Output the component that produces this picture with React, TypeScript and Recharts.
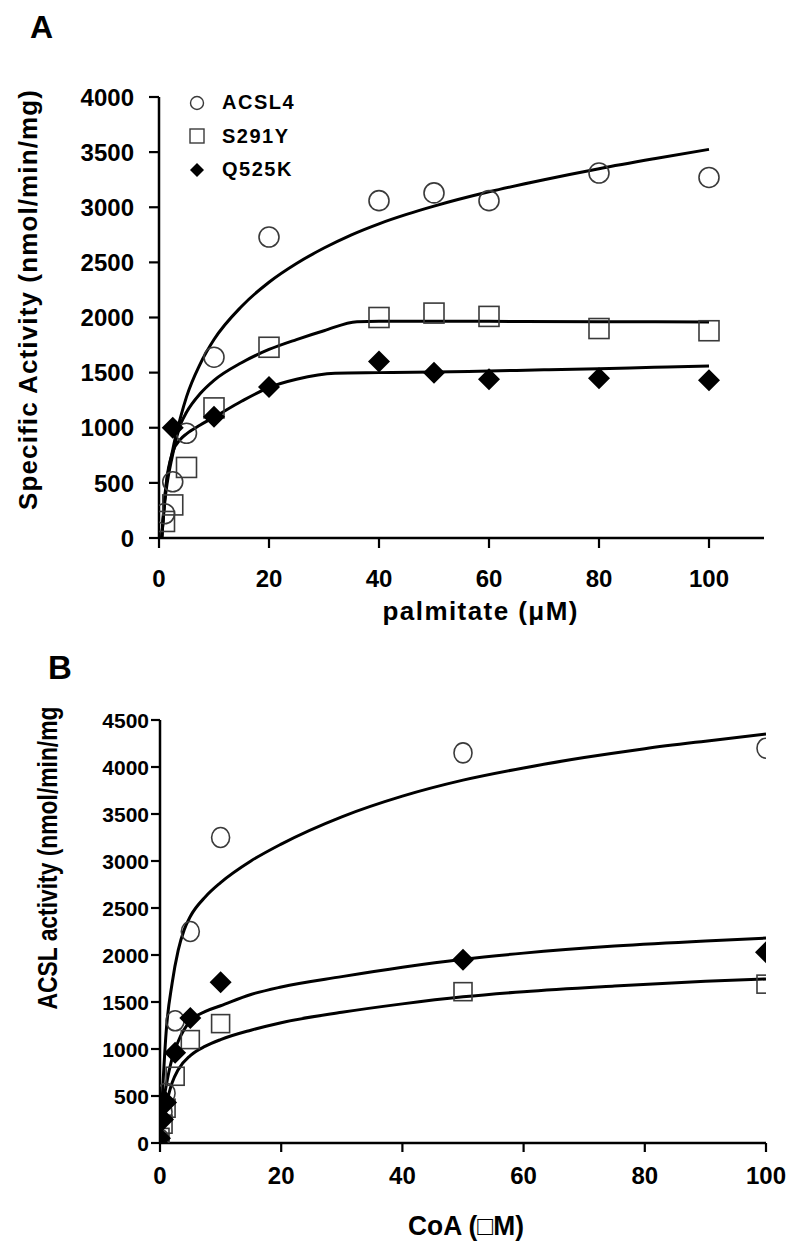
import React from 'react';
import { ComposedChart, XAxis, YAxis, Line, Scatter, Legend, Label } from 'recharts';

const FONT = "'Liberation Sans', Arial, Helvetica, sans-serif";
const NARROW = "'Liberation Sans Narrow', 'Arial Narrow', 'Liberation Sans', Arial, sans-serif";

// ---------- Panel A : palmitate ----------
const palmitateTicks = [0, 20, 40, 60, 80, 100];
const activityTicksA = [0, 500, 1000, 1500, 2000, 2500, 3000, 3500, 4000];

const acsl4Palmitate = [
  { x: 1, y: 220 }, { x: 2.5, y: 510 }, { x: 5, y: 950 }, { x: 10, y: 1640 }, { x: 20, y: 2730 },
  { x: 40, y: 3060 }, { x: 50, y: 3130 }, { x: 60, y: 3060 }, { x: 80, y: 3310 }, { x: 100, y: 3270 },
];
const s291yPalmitate = [
  { x: 1, y: 150 }, { x: 2.5, y: 300 }, { x: 5, y: 640 }, { x: 10, y: 1180 }, { x: 20, y: 1730 },
  { x: 40, y: 2000 }, { x: 50, y: 2040 }, { x: 60, y: 2010 }, { x: 80, y: 1900 }, { x: 100, y: 1880 },
];
const q525kPalmitate = [
  { x: 2.5, y: 1000 }, { x: 10, y: 1100 }, { x: 20, y: 1370 }, { x: 40, y: 1600 },
  { x: 50, y: 1500 }, { x: 60, y: 1440 }, { x: 80, y: 1450 }, { x: 100, y: 1430 },
];
const acsl4PalmitateFit = [
  { x: 0.5, y: 0 }, { x: 1, y: 330 }, { x: 2.5, y: 800 }, { x: 4, y: 1110 }, { x: 5, y: 1280 },
  { x: 7.5, y: 1580 }, { x: 10, y: 1800 }, { x: 15, y: 2100 }, { x: 20, y: 2320 }, { x: 25, y: 2490 },
  { x: 30, y: 2630 }, { x: 35, y: 2750 }, { x: 40, y: 2850 }, { x: 45, y: 2935 }, { x: 50, y: 3010 },
  { x: 60, y: 3140 }, { x: 70, y: 3250 }, { x: 80, y: 3350 }, { x: 90, y: 3440 }, { x: 100, y: 3525 },
];
const s291yPalmitateFit = [
  { x: 0.5, y: 0 }, { x: 1, y: 300 }, { x: 2.5, y: 760 }, { x: 4, y: 1040 }, { x: 5, y: 1140 },
  { x: 7.5, y: 1310 }, { x: 10, y: 1430 }, { x: 15, y: 1590 }, { x: 20, y: 1710 }, { x: 25, y: 1800 },
  { x: 30, y: 1880 }, { x: 36, y: 1962 }, { x: 40, y: 1965 }, { x: 60, y: 1965 }, { x: 80, y: 1962 },
  { x: 100, y: 1960 },
];
const q525kPalmitateFit = [
  { x: 0.5, y: 0 }, { x: 1, y: 340 }, { x: 2.5, y: 780 }, { x: 4, y: 900 }, { x: 5, y: 945 },
  { x: 7.5, y: 1025 }, { x: 10, y: 1095 }, { x: 15, y: 1240 }, { x: 20, y: 1365 }, { x: 25, y: 1440 },
  { x: 32, y: 1495 }, { x: 40, y: 1500 }, { x: 50, y: 1505 }, { x: 60, y: 1515 }, { x: 70, y: 1525 },
  { x: 80, y: 1535 }, { x: 90, y: 1548 }, { x: 100, y: 1560 },
];

// ---------- Panel B : CoA ----------
const coaTicks = [0, 20, 40, 60, 80, 100];
const activityTicksB = [0, 500, 1000, 1500, 2000, 2500, 3000, 3500, 4000, 4500];

const acsl4CoA = [
  { x: 0, y: 40 }, { x: 0.5, y: 330 }, { x: 1, y: 530 }, { x: 2.5, y: 1300 }, { x: 5, y: 2250 },
  { x: 10, y: 3250 }, { x: 50, y: 4150 }, { x: 100, y: 4200 },
];
const s291yCoA = [
  { x: 0, y: 60 }, { x: 0.5, y: 200 }, { x: 1, y: 370 }, { x: 2.5, y: 710 }, { x: 5, y: 1100 },
  { x: 10, y: 1270 }, { x: 50, y: 1610 }, { x: 100, y: 1690 },
];
const q525kCoA = [
  { x: 0, y: 50 }, { x: 0.5, y: 250 }, { x: 1, y: 430 }, { x: 2.5, y: 960 }, { x: 5, y: 1330 },
  { x: 10, y: 1710 }, { x: 50, y: 1950 }, { x: 100, y: 2030 },
];
const acsl4CoAFit = [
  { x: 0, y: 0 }, { x: 0.5, y: 640 }, { x: 1, y: 1170 }, { x: 2, y: 1700 }, { x: 3, y: 2050 },
  { x: 4, y: 2270 }, { x: 5, y: 2410 }, { x: 7.5, y: 2620 }, { x: 10, y: 2770 }, { x: 15, y: 3000 },
  { x: 20, y: 3180 }, { x: 30, y: 3470 }, { x: 40, y: 3690 }, { x: 50, y: 3860 }, { x: 60, y: 3990 },
  { x: 70, y: 4100 }, { x: 80, y: 4195 }, { x: 90, y: 4275 }, { x: 100, y: 4350 },
];
const s291yCoAFit = [
  { x: 0, y: 0 }, { x: 0.5, y: 250 }, { x: 1, y: 400 }, { x: 2, y: 640 }, { x: 3, y: 780 },
  { x: 5, y: 930 }, { x: 7.5, y: 1030 }, { x: 10, y: 1100 }, { x: 15, y: 1200 }, { x: 20, y: 1280 },
  { x: 30, y: 1390 }, { x: 40, y: 1480 }, { x: 50, y: 1555 }, { x: 60, y: 1610 }, { x: 75, y: 1670 },
  { x: 90, y: 1720 }, { x: 100, y: 1745 },
];
const q525kCoAFit = [
  { x: 0, y: 0 }, { x: 0.5, y: 400 }, { x: 1, y: 600 }, { x: 2, y: 900 }, { x: 3, y: 1080 },
  { x: 5, y: 1300 }, { x: 7.5, y: 1400 }, { x: 10, y: 1460 }, { x: 15, y: 1580 }, { x: 20, y: 1660 },
  { x: 30, y: 1770 }, { x: 40, y: 1870 }, { x: 50, y: 1955 }, { x: 60, y: 2020 }, { x: 75, y: 2095 },
  { x: 90, y: 2150 }, { x: 100, y: 2180 },
];

const legendNames = ['ACSL4', 'S291Y', 'Q525K'];

// ---------- marker shapes ----------
const circleShape = (rx: number, ry: number) => (p: any) =>
  <ellipse cx={p.cx} cy={p.cy} rx={rx} ry={ry} fill="none" stroke="#3a3a3a" strokeWidth={1.6} />;
const squareShape = (s: number) => (p: any) =>
  <rect x={p.cx - s / 2} y={p.cy - s / 2} width={s} height={s} fill="none" stroke="#3a3a3a" strokeWidth={1.6} />;
const diamondShape = (h: number) => (p: any) =>
  <polygon points={`${p.cx},${p.cy - h} ${p.cx + h},${p.cy} ${p.cx},${p.cy + h} ${p.cx - h},${p.cy}`} fill="#000" />;

const legendIcon = (i: number) => {
  if (i === 0) return <circle cx={9} cy={9} r={6.5} fill="none" stroke="#3a3a3a" strokeWidth={1.4} />;
  if (i === 1) return <rect x={2} y={2} width={14} height={14} fill="none" stroke="#3a3a3a" strokeWidth={1.4} />;
  return <polygon points="9,2 16,9 9,16 2,9" fill="#000" />;
};

const LegendBox = () => (
  <div style={{ fontFamily: FONT, fontWeight: 'bold', fontSize: 20, color: '#000' }}>
    {legendNames.map((n, i) => (
      <div key={n} style={{ display: 'flex', alignItems: 'center', height: 33.5 }}>
        <svg width={18} height={18}>{legendIcon(i)}</svg>
        <span style={{ marginLeft: 16, letterSpacing: 1.5 }}>{n}</span>
      </div>
    ))}
  </div>
);

const makeXTick = (family: string, size: number) => (props: any) => (
  <text x={props.x} y={props.y} dy="0.72em" textAnchor="middle" fontFamily={family} fontSize={size} fontWeight="bold" fill="#000">
    {props.payload.value}
  </text>
);
const makeYTick = (family: string, size: number) => (props: any) => (
  <text x={props.x} y={props.y} dy="0.36em" textAnchor="end" fontFamily={family} fontSize={size} fontWeight="bold" fill="#000">
    {props.payload.value}
  </text>
);

const axisLine = { stroke: '#000', strokeWidth: 2.5 };
const tickLine = { stroke: '#000', strokeWidth: 2.2 };

export default function App() {
  return (
    <div style={{ position: 'absolute', left: 0, top: 0, width: 800, height: 1246, background: '#fff' }}>
      <div style={{ position: 'absolute', left: 30, top: 11, fontFamily: FONT, fontWeight: 'bold', fontSize: 32, lineHeight: '32px' }}>A</div>
      <div style={{ position: 'absolute', left: 48, top: 651, fontFamily: FONT, fontWeight: 'bold', fontSize: 33, lineHeight: '33px' }}>B</div>

      <div style={{ position: 'absolute', left: 0, top: 0 }}>
        <ComposedChart width={800} height={640} margin={{ top: 97, right: 36, bottom: 0, left: 0 }}>
          <XAxis type="number" dataKey="x" domain={[0, 110]} ticks={palmitateTicks} allowDataOverflow
            height={102} tickSize={10} tickMargin={22} axisLine={axisLine} tickLine={tickLine}
            tick={makeXTick(FONT, 24)}>
            <Label content={() => (
              <text x={480} y={620} textAnchor="middle" fontFamily={FONT} fontSize={26} fontWeight="bold"
                textLength={195} lengthAdjust="spacing" fill="#000">palmitate (μM)</text>
            )} />
          </XAxis>
          <YAxis type="number" dataKey="y" domain={[0, 4000]} ticks={activityTicksA} allowDataOverflow
            width={159} tickSize={10} tickMargin={15} axisLine={axisLine} tickLine={tickLine}
            tick={makeYTick(FONT, 24)}>
            <Label content={() => (
              <text transform="translate(37,300) rotate(-90)" x={0} y={0} textAnchor="middle" fontFamily={FONT}
                fontSize={26} fontWeight="bold" textLength={420} lengthAdjust="spacing" fill="#000">
                Specific Activity (nmol/min/mg)
              </text>
            )} />
          </YAxis>
          <Line data={acsl4PalmitateFit} dataKey="y" type="monotone" stroke="#000" strokeWidth={3} dot={false} activeDot={false} legendType="none" isAnimationActive={false} />
          <Line data={s291yPalmitateFit} dataKey="y" type="monotone" stroke="#000" strokeWidth={3} dot={false} activeDot={false} legendType="none" isAnimationActive={false} />
          <Line data={q525kPalmitateFit} dataKey="y" type="monotone" stroke="#000" strokeWidth={3} dot={false} activeDot={false} legendType="none" isAnimationActive={false} />
          <Scatter name="ACSL4" data={acsl4Palmitate} shape={circleShape(10, 10)} isAnimationActive={false} />
          <Scatter name="S291Y" data={s291yPalmitate} shape={squareShape(20)} isAnimationActive={false} />
          <Scatter name="Q525K" data={q525kPalmitate} shape={diamondShape(11)} isAnimationActive={false} />
          <Legend layout="vertical" align="center" verticalAlign="middle" content={() => <LegendBox />}
            wrapperStyle={{ position: 'absolute', left: 188, top: 86, width: 160, height: 104 }} />
        </ComposedChart>
      </div>

      <div style={{ position: 'absolute', left: 0, top: 640 }}>
        <ComposedChart width={800} height={606} margin={{ top: 80, right: 34, bottom: 0, left: 0 }}>
          <XAxis type="number" dataKey="x" domain={[0, 100]} ticks={coaTicks} allowDataOverflow
            height={103} tickSize={9} tickMargin={15} axisLine={axisLine} tickLine={tickLine}
            tick={makeXTick(NARROW, 24)}>
            <Label content={() => (
              <text x={466} y={595} textAnchor="middle" fontFamily={NARROW} fontSize={27} fontWeight="bold"
                textLength={116} lengthAdjust="spacingAndGlyphs" fill="#000">CoA (□M)</text>
            )} />
          </XAxis>
          <YAxis type="number" dataKey="y" domain={[0, 4500]} ticks={activityTicksB} allowDataOverflow
            width={160} tickSize={9} tickMargin={2} axisLine={axisLine} tickLine={tickLine}
            tick={makeYTick(NARROW, 21)}>
            <Label content={() => (
              <text transform="translate(57,218) rotate(-90)" x={0} y={0} textAnchor="middle" fontFamily={NARROW}
                fontSize={28} fontWeight="bold" textLength={303} lengthAdjust="spacingAndGlyphs" fill="#000">
                ACSL activity (nmol/min/mg
              </text>
            )} />
          </YAxis>
          <Line data={acsl4CoAFit} dataKey="y" type="monotone" stroke="#000" strokeWidth={3} dot={false} activeDot={false} legendType="none" isAnimationActive={false} />
          <Line data={s291yCoAFit} dataKey="y" type="monotone" stroke="#000" strokeWidth={3} dot={false} activeDot={false} legendType="none" isAnimationActive={false} />
          <Line data={q525kCoAFit} dataKey="y" type="monotone" stroke="#000" strokeWidth={3} dot={false} activeDot={false} legendType="none" isAnimationActive={false} />
          <Scatter name="ACSL4" data={acsl4CoA} shape={circleShape(9, 10)} isAnimationActive={false} />
          <Scatter name="S291Y" data={s291yCoA} shape={squareShape(18)} isAnimationActive={false} />
          <Scatter name="Q525K" data={q525kCoA} shape={diamondShape(11)} isAnimationActive={false} />
        </ComposedChart>
      </div>
    </div>
  );
}
